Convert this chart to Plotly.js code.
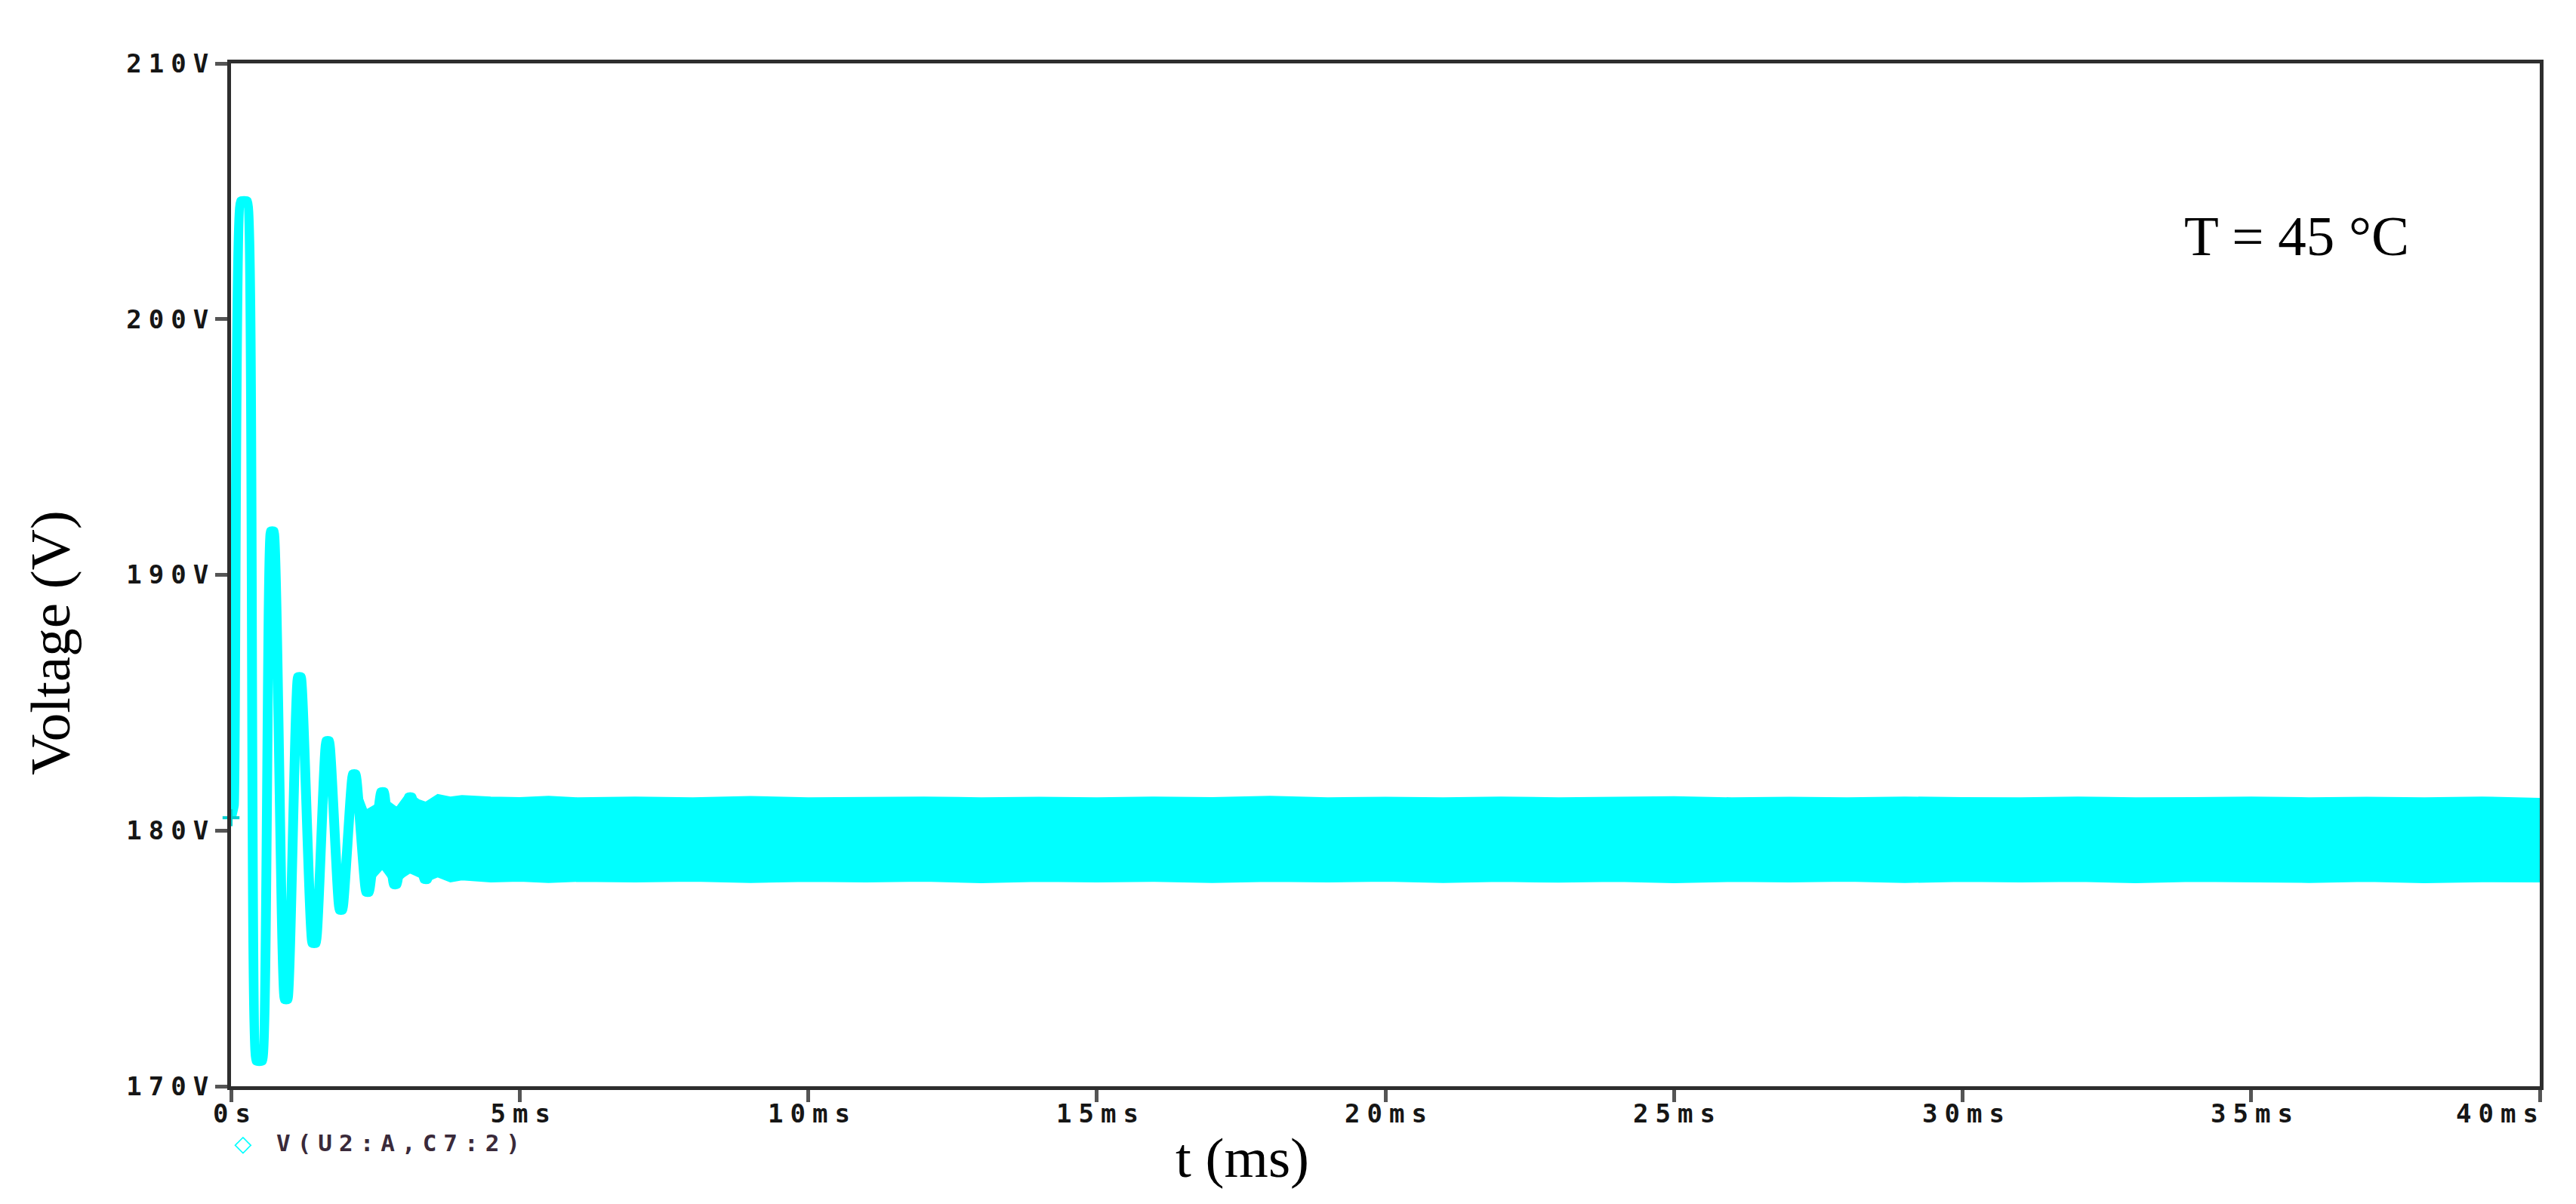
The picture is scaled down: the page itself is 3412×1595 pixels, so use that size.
<!DOCTYPE html>
<html>
<head>
<meta charset="utf-8">
<script src="https://cdn.plot.ly/plotly-3.0.1.min.js"></script>
<style>
  html, body { margin: 0; padding: 0; background: #fff; }
  #graph { width: 3412px; height: 1595px; }
</style>
</head>
<body>
<div id="graph"></div>
<script>
// start-up transient (ms, V): peaks and troughs of the damped ringing
const tTransient = [0, 0.05, 0.17, 0.28, 0.44, 0.54, 0.69, 0.74, 0.93, 0.98, 1.16, 1.21, 1.41, 1.47, 1.65, 1.70, 1.88, 1.93, 2.11, 2.16, 2.34, 2.39, 2.60, 2.65, 2.82, 2.87, 3.08, 3.13, 3.35, 3.40, 3.58]
const vTransient = [180.5, 181.0, 204.6, 204.6, 171.0, 171.0, 191.7, 191.7, 173.4, 173.4, 186.0, 186.0, 175.6, 175.6, 183.5, 183.5, 176.9, 176.9, 182.2, 182.2, 177.6, 177.6, 181.5, 181.5, 177.9, 177.9, 181.3, 181.3, 178.1, 178.1, 180.9]

// switching ripple band: upper and lower envelope (ms, V)
const tBand = [2.25, 2.35, 2.5, 2.62, 2.75, 2.87, 3.0, 3.1, 3.25, 3.37, 3.58, 3.8, 4.0, 4.5, 5, 5.5, 6, 7, 8, 9, 10, 11, 12, 13, 14, 15, 16, 17, 18, 19, 20, 21, 22, 23, 24, 25, 26, 27, 28, 29, 30, 31, 32, 33, 34, 35, 36, 37, 38, 39, 40]
const vBandHigh = [181.4, 180.8, 181.0, 181.6, 181.1, 180.9, 181.3, 181.45, 181.2, 181.1, 181.4, 181.3, 181.36, 181.3, 181.28, 181.33, 181.27, 181.3, 181.27, 181.32, 181.27, 181.28, 181.3, 181.27, 181.29, 181.27, 181.3, 181.28, 181.33, 181.27, 181.29, 181.27, 181.3, 181.27, 181.28, 181.31, 181.27, 181.29, 181.27, 181.3, 181.28, 181.27, 181.3, 181.27, 181.28, 181.3, 181.27, 181.29, 181.27, 181.3, 181.25]
const vBandLow = [178.9, 177.8, 178.2, 178.5, 178.1, 177.95, 178.2, 178.35, 178.2, 178.0, 178.2, 178.0, 178.08, 178.0, 178.03, 177.98, 178.02, 178.0, 178.03, 177.98, 178.02, 178.0, 178.03, 177.97, 178.02, 178.0, 178.02, 177.98, 178.02, 178.0, 178.03, 177.98, 178.02, 177.99, 178.02, 177.97, 178.02, 178.0, 178.03, 177.98, 178.02, 178.0, 178.02, 177.97, 178.02, 178.0, 177.98, 178.02, 177.97, 178.01, 178.0]

const xTickVals = [0, 5, 10, 15, 20, 25, 30, 35, 40]
const xTickText = ['0s', '5ms', '10ms', '15ms', '20ms', '25ms', '30ms', '35ms', '40ms']
const yTickVals = [170, 180, 190, 200, 210]
const yTickText = ['170V', '180V', '190V', '200V', '210V']

const traceName = 'V(U2:A,C7:2)'
const xTitle = 't (ms)'
const yTitle = 'Voltage (V)'
const tempLabel = 'T = 45 °C'

const cyan = '#00ffff'
const monoFont = {family: 'DejaVu Sans Mono', size: 34, color: '#161616', weight: 'bold'}
const serifFont = {family: 'Liberation Serif', size: 75, color: '#000'}

// wide letter spacing for the pixel-style tick texts
const style = document.createElement('style')
let css = '.ytick text { letter-spacing: 9px; }\n'
for (let i = 0; i < xTickVals.length; i++) {
    css += `g.annotation[data-index="${i}"] text { letter-spacing: 9px; }\n`
}
css += `g.annotation[data-index="${xTickVals.length}"] text { letter-spacing: 9px; }\n`
style.textContent = css
document.head.appendChild(style)

const last = xTickVals.length - 1
const annotations = xTickVals.map((v, i) => ({
    x: v, xref: 'x', y: -0.0266, yref: 'paper',
    text: xTickText[i], showarrow: false,
    xanchor: 'center', xshift: i === last ? -52 : 5,
    yanchor: 'middle', font: monoFont
}))
annotations.push({
    x: 0.0723, xref: 'paper', y: -0.0554, yref: 'paper', text: traceName,
    showarrow: false, xanchor: 'center', yanchor: 'middle', xshift: 5,
    font: {family: 'DejaVu Sans Mono', size: 31, color: '#3a2a3a', weight: 'bold'}
})
annotations.push({
    x: 0.0052, xref: 'paper', y: -0.0554, yref: 'paper', text: '◇',
    showarrow: false, xanchor: 'center', yanchor: 'middle',
    font: {family: 'DejaVu Sans', size: 30, color: cyan, weight: 'bold'}
})
annotations.push({
    x: -0.0782, xref: 'paper', y: 0.434, yref: 'paper', text: yTitle,
    textangle: -90, showarrow: false, xanchor: 'center', yanchor: 'middle', font: serifFont
})
annotations.push({
    x: 0.4379, xref: 'paper', y: -0.0701, yref: 'paper', text: xTitle,
    showarrow: false, xanchor: 'center', yanchor: 'middle', font: serifFont
})
annotations.push({
    x: 0.8947, xref: 'paper', y: 0.8317, yref: 'paper', text: tempLabel,
    showarrow: false, xanchor: 'center', yanchor: 'middle', font: serifFont
})

const plotData = [
    {x: tBand, y: vBandLow, type: 'scatter', mode: 'lines', line: {color: cyan, width: 2}, hoverinfo: 'skip'},
    {x: tBand, y: vBandHigh, type: 'scatter', mode: 'lines', fill: 'tonexty', fillcolor: cyan, line: {color: cyan, width: 2}, name: traceName},
    {x: tTransient, y: vTransient, type: 'scatter', mode: 'lines', line: {color: cyan, width: 13, shape: 'spline', smoothing: 0.3}, name: traceName},
    // start marker of the probe at t = 0
    {x: tTransient.slice(0, 1), y: vTransient.slice(0, 1), type: 'scatter', mode: 'markers', cliponaxis: false,
     marker: {symbol: 'cross-thin-open', size: 16, color: '#00d0d0', line: {color: '#00d0d0', width: 4}}}
]

Plotly.newPlot('graph', plotData, {
    width: 3412,
    height: 1595,
    margin: {l: 306, r: 48, t: 84, b: 156},
    showlegend: false,
    plot_bgcolor: '#fff',
    paper_bgcolor: '#fff',
    xaxis: {
        range: [0, 40],
        tickvals: xTickVals,
        showticklabels: false,
        ticks: 'outside', ticklen: 16, tickwidth: 5, tickcolor: '#555',
        showline: true, linecolor: '#2e2e2e', linewidth: 5, mirror: true,
        showgrid: false, zeroline: false
    },
    yaxis: {
        range: [170, 210],
        tickvals: yTickVals,
        ticktext: yTickText,
        tickfont: monoFont,
        ticklabelstandoff: -7,
        ticks: 'outside', ticklen: 16, tickwidth: 5, tickcolor: '#555',
        showline: true, linecolor: '#2e2e2e', linewidth: 5, mirror: true,
        showgrid: false, zeroline: false
    },
    annotations: annotations
}, {staticPlot: true})
</script>
</body>
</html>
